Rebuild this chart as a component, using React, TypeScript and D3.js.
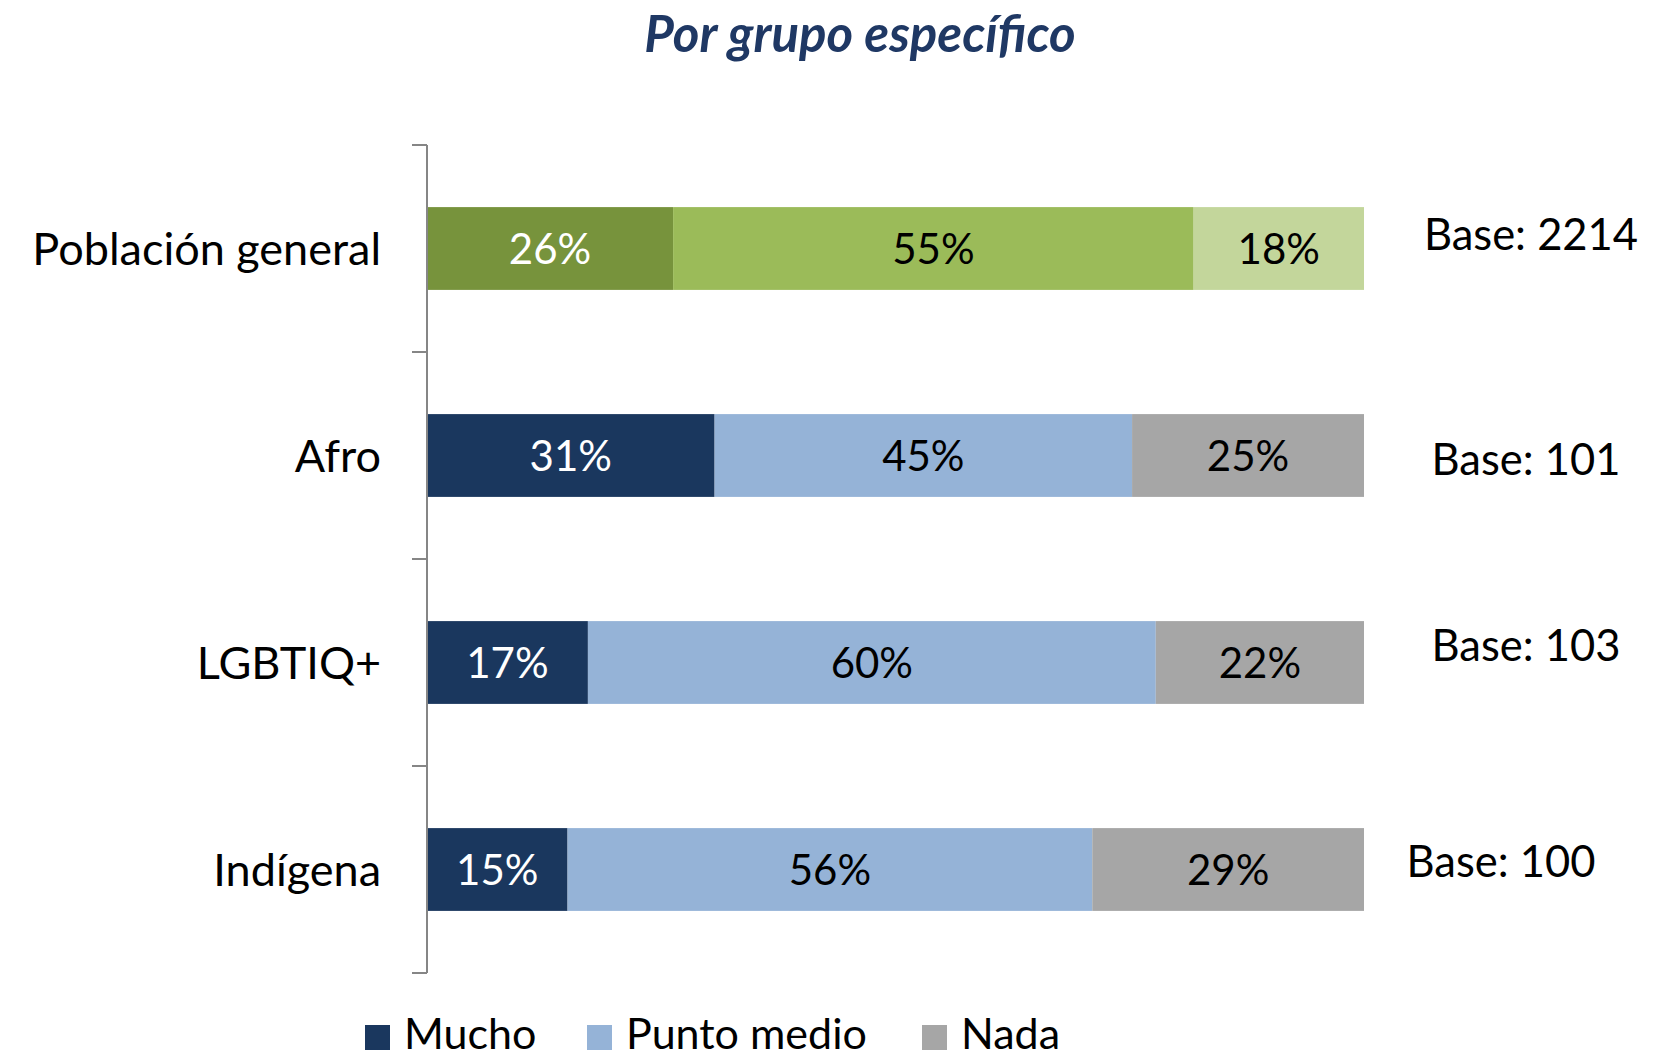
import React, { useEffect, useRef } from "react";
import * as d3 from "d3";

// values (labels are rounded, bars are normalised to 100%)
const categories = ["Población general", "Afro", "LGBTIQ+", "Indígena"];
const mucho = [26, 31, 17, 15];
const puntoMedio = [55, 45, 60, 56];
const nada = [18, 25, 22, 29];
const bases = [2214, 101, 103, 100];
const seriesNames = ["Mucho", "Punto medio", "Nada"];

// the "Base" text boxes were placed by hand in the original, so they wander a bit
const baseNudge = [
  [0, -14],
  [-5, 4],
  [-5, -17],
  [-30, -8],
];

const W = 1667;
const H = 1059;
const FONT = "Lato, 'Open Sans', sans-serif";

const blueColors = ["#1A375E", "#95B3D7", "#A6A6A6"];
const greenColors = ["#77933C", "#9BBB59", "#C3D69B"];

export default function App() {
  const svgRef = useRef<SVGSVGElement>(null);

  useEffect(() => {
    const svg = d3.select(svgRef.current);
    svg.selectAll("*").remove();

    const rows = categories.map((c, i) => ({
      cat: c,
      Mucho: mucho[i],
      "Punto medio": puntoMedio[i],
      Nada: nada[i],
    }));

    const stacked = d3
      .stack<any>()
      .keys(seriesNames)
      .offset(d3.stackOffsetExpand)(rows);

    const x = d3.scaleLinear().domain([0, 1]).range([427, 1364]);
    const y = d3.scaleBand().domain(categories).range([145, 973]);
    const barH = y.bandwidth() * 0.4;

    // title
    svg
      .append("text")
      .attr("x", 860)
      .attr("y", 52)
      .attr("text-anchor", "middle")
      .attr("font-family", FONT)
      .attr("font-size", 51)
      .attr("font-weight", "bold")
      .attr("font-style", "italic")
      .attr("fill", "#1F3864")
      .text("Por grupo específico");

    // bars
    stacked.forEach((layer, si) => {
      const g = svg.append("g");
      layer.forEach((d, ri) => {
        const cat = categories[ri];
        const fill = ri === 0 ? greenColors[si] : blueColors[si];
        const y0 = y(cat)! + (y.bandwidth() - barH) / 2;
        g.append("rect")
          .attr("x", x(d[0]))
          .attr("y", y0)
          .attr("width", x(d[1]) - x(d[0]))
          .attr("height", barH)
          .attr("fill", fill);
        const val = [mucho, puntoMedio, nada][si][ri];
        g.append("text")
          .attr("x", (x(d[0]) + x(d[1])) / 2)
          .attr("y", y0 + barH / 2)
          .attr("dy", "0.36em")
          .attr("text-anchor", "middle")
          .attr("font-family", FONT)
          .attr("font-size", 42)
          .attr("fill", si === 0 ? "#FFFFFF" : "#000000")
          .text(val + "%");
      });
    });

    // category axis
    const axis = svg.append("g").attr("transform", `translate(${x(0)},0)`);
    axis
      .append("line")
      .attr("x1", 0)
      .attr("x2", 0)
      .attr("y1", y.range()[0])
      .attr("y2", y.range()[1])
      .attr("stroke", "#868686")
      .attr("stroke-width", 2);
    const tickYs = categories.map((c) => y(c)!).concat([y.range()[1]]);
    axis
      .selectAll("line.tick")
      .data(tickYs)
      .enter()
      .append("line")
      .attr("class", "tick")
      .attr("x1", -15)
      .attr("x2", 0)
      .attr("y1", (d) => d)
      .attr("y2", (d) => d)
      .attr("stroke", "#868686")
      .attr("stroke-width", 2);
    axis
      .selectAll("text")
      .data(categories)
      .enter()
      .append("text")
      .attr("x", -46)
      .attr("y", (d) => y(d)! + y.bandwidth() / 2)
      .attr("dy", "0.36em")
      .attr("text-anchor", "end")
      .attr("font-family", FONT)
      .attr("font-size", 45)
      .attr("fill", "#000")
      .text((d) => d);

    // base annotations
    svg
      .selectAll("text.base")
      .data(bases)
      .enter()
      .append("text")
      .attr("class", "base")
      .attr("x", (d, i) => 1531 + baseNudge[i][0])
      .attr("y", (d, i) => y(categories[i])! + y.bandwidth() / 2 + baseNudge[i][1])
      .attr("dy", "0.36em")
      .attr("text-anchor", "middle")
      .attr("font-family", FONT)
      .attr("font-size", 43.5)
      .attr("fill", "#000")
      .text((d) => "Base: " + d);

    // legend
    const legendX = [365, 587, 922];
    const lg = svg.append("g");
    seriesNames.forEach((s, i) => {
      lg.append("rect")
        .attr("x", legendX[i])
        .attr("y", 1025)
        .attr("width", 25)
        .attr("height", 25)
        .attr("fill", blueColors[i]);
      lg.append("text")
        .attr("x", legendX[i] + 39)
        .attr("y", 1034)
        .attr("dy", "0.36em")
        .attr("font-family", FONT)
        .attr("font-size", 43)
        .attr("fill", "#000")
        .text(s);
    });
  }, []);

  return (
    <svg
      ref={svgRef}
      width={W}
      height={H}
      style={{ position: "absolute", left: 0, top: 0, background: "#fff" }}
    />
  );
}
